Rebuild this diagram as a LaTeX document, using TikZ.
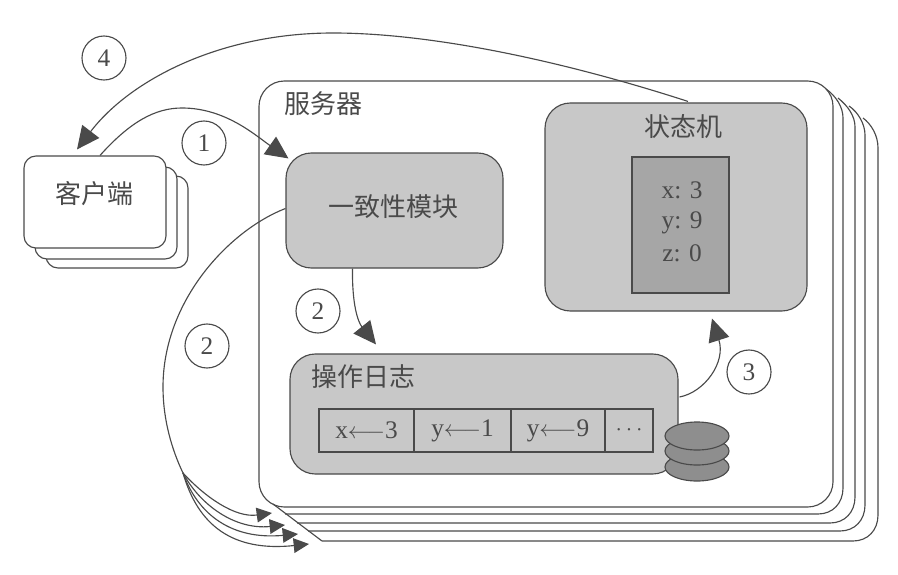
\documentclass[tikz,border=0pt]{standalone}
\usepackage{fontspec}
\setmainfont{Liberation Serif}
\newfontfamily\cjk{Noto Sans CJK SC}
\usetikzlibrary{arrows.meta,calc,shapes.geometric}
\definecolor{ink}{HTML}{4A4A4A}
\definecolor{softgray}{HTML}{C8C8C8}
\definecolor{midgray}{HTML}{A6A6A6}
\definecolor{diskgray}{HTML}{8E8E8E}
\tikzset{
  x=0.75pt,y=-0.75pt,
  line/.style={draw=ink,line width=0.85pt},
  frame/.style={line,fill=white,rounded corners=19pt,inner sep=0pt,minimum width=430.5pt,minimum height=319.5pt},
  card/.style={line,fill=white,rounded corners=9pt,inner sep=0pt,minimum width=106.5pt,minimum height=69pt},
  module/.style={line,fill=softgray,rounded corners=19pt,inner sep=0pt},
  cell/.style={line,fill=softgray,text=ink,inner sep=0pt,minimum height=32.25pt,font=\fontsize{19}{22}\selectfont},
  disk/.style={ellipse,line,fill=diskgray,inner sep=0pt,minimum width=48pt,minimum height=21pt},
  num/.style={circle,line,fill=white,text=ink,inner sep=0pt,minimum size=33pt,font=\fontsize{19}{20}\selectfont},
  cn/.style={text=ink,inner sep=0pt,font=\cjk\fontsize{19.5}{22}\selectfont},
  val/.style={text=ink,inner sep=0pt,font=\fontsize{19}{20}\selectfont},
  conn/.style={line,-{Triangle[length=17pt,width=16pt,fill=ink]}},
  fan/.style={line,-{Triangle[length=11.5pt,width=11pt,fill=ink]}},
  plain/.style={line}
}
\begin{document}
\begin{tikzpicture}
\useasboundingbox (0,0) rectangle (898,574);
\fill[white] (0,0) rectangle (898,574);
% server stack, rear sheets are open paths ending on the diagonals
\node[frame] (srv) at (546,294) {};
\coordinate (diagA) at (273,504);
\coordinate (diagB) at (322,541);
\draw[line] (322,541) -- (853,541) .. controls (868,541) and (878,530) .. (878,515) -- (878,148) .. controls (878,135) and (871,124) .. (863,118);
\draw[line] (308,531) -- (840,531) .. controls (855,531) and (865,520) .. (865,505) -- (865,135) .. controls (865,124) and (858,112) .. (849,106);
\draw[line] (297,523) -- (830,523) .. controls (845,523) and (855,512) .. (855,497) -- (855,127) .. controls (855,116) and (848,106) .. (838,98);
\draw[line] (285,514) -- (818,514) .. controls (833,514) and (843,503) .. (843,488) -- (843,118) .. controls (843,107) and (836,96) .. (826,89);
\draw[line] (diagA) -- (diagB);
\node[cn,anchor=center] (srvlabel) at (323,104) {服务器};
% clients
\node[card] (c3) at (117,222) {};
\node[card] (c2) at (106,213) {};
\node[card] (c1) at (95,202) {};
\node[cn] (clabel) at (94,194) {客户端};
% modules
\node[module,minimum width=162.75pt,minimum height=86.25pt] (cons) at (394.5,210.5) {};
\node[cn] (conslabel) at (393,207) {一致性模块};
\node[module,minimum width=196.5pt,minimum height=156pt] (sm) at (676,207) {};
\node[cn] (smlabel) at (683,127) {状态机};
\node[line,fill=midgray,inner sep=0pt,minimum width=72.75pt,minimum height=102pt] (state) at (680.5,225) {};
\node[val] (vx) at (682,190) {x: 3};
\node[val] (vy) at (682,223) {y: 9};
\node[val] (vz) at (682,253) {z: 0};
\node[module,minimum width=291pt,minimum height=90pt] (log) at (484,414) {};
\node[cn] (loglabel) at (363,377) {操作日志};
\node[cell,minimum width=71.25pt] (e1) at (366.5,430.5) {x$\longleftarrow$3};
\node[cell,minimum width=72.75pt] (e2) at (462.5,430.5) {y$\longleftarrow$1};
\node[cell,minimum width=70.5pt] (e3) at (558,430.5) {y$\longleftarrow$9};
\node[cell,minimum width=36pt] (e4) at (629,430.5) {$\cdots$};
\node[disk] (d3) at (697,467) {};
\node[disk] (d2) at (697,451) {};
\node[disk] (d1) at (697,436) {};
% connectors
\coordinate (branch) at (183,473);
\draw[conn] ($(sm.north)+(12,-1)$) .. controls (560,60) and (430,33) .. (333,33) .. controls (220,33) and (130,80) .. ($(c1.north)+(-18,-6)$);
\draw[conn] ($(c1.north)+(5,0)$) .. controls (130,122) and (155,108) .. (182,108) .. controls (225,108) and (255,135) .. ($(cons.north west)+(3,6)$);
\draw[conn] ($(cons.south)+(-42,0)$) .. controls (352,305) and (358,322) .. ($(log.north)+(-108,-9)$);
\draw[conn] ($(log.east)+(1,-17)$) .. controls (705,392) and (726,362) .. ($(sm.south)+(36,7)$);
\draw[plain] ($(cons.west)+(0,-2)$) .. controls (230,230) and (163,300) .. (163,387) .. controls (163,420) and (172,450) .. (branch);
\draw[fan] (branch) .. controls (205,497) and (235,518) .. (272,513);
\draw[fan] (branch) .. controls (200,505) and (235,530) .. (285,525);
\draw[fan] (branch) .. controls (198,515) and (232,540) .. (298,534);
\draw[fan] (branch) .. controls (198,525) and (232,552) .. (309,544);
% step numbers
\node[num] (n4) at (104,58) {4};
\node[num] (n1) at (204,143) {1};
\node[num] (n2a) at (318,311) {2};
\node[num] (n2b) at (207,346) {2};
\node[num] (n3) at (749,372) {3};
\end{tikzpicture}
\end{document}
